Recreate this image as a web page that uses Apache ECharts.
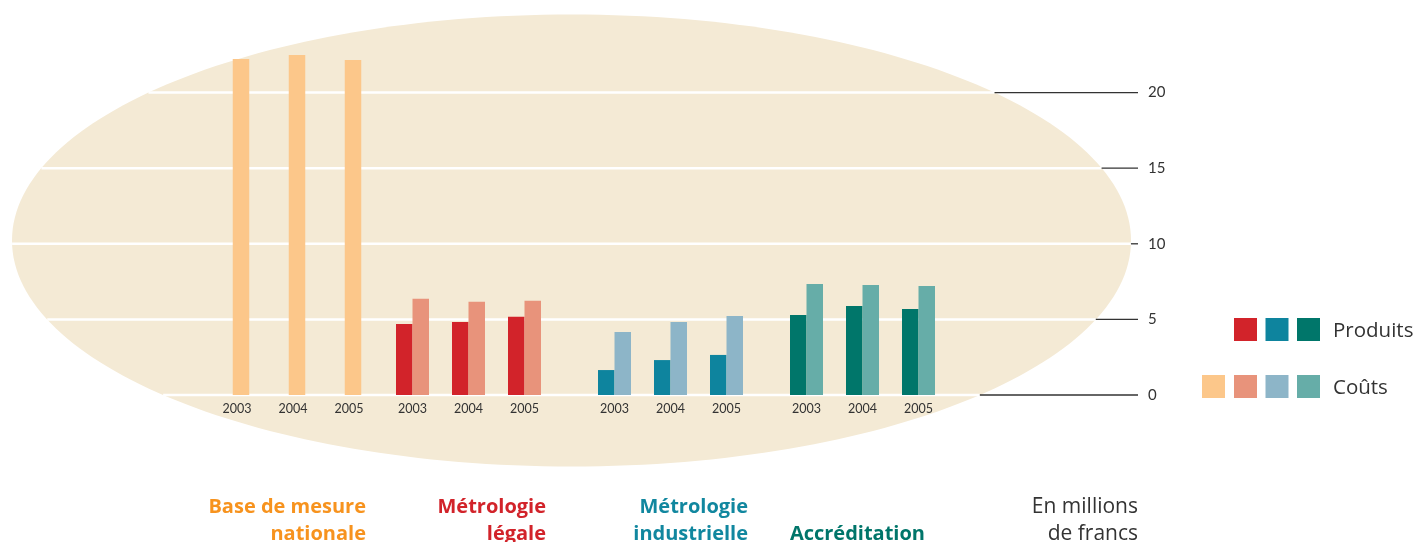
<!DOCTYPE html>
<html>
<head>
<meta charset="utf-8">
<script src="https://cdn.jsdelivr.net/npm/echarts@6/dist/echarts.min.js"></script>
<style>html,body{margin:0;padding:0;background:#fff}#c{width:1418px;height:542px}</style>
</head>
<body>
<div id="c"></div>
<script>
// ---- data ----
const years = ['2003', '2004', '2005'];
const groupTitles = ['Base de mesure\nnationale', 'Métrologie\nlégale', 'Métrologie\nindustrielle', '\nAccréditation'];
const coutsBase = [22.22, 22.49, 22.16];
const produitsLegale = [4.70, 4.83, 5.18];
const coutsLegale = [6.36, 6.16, 6.23];
const produitsIndus = [1.65, 2.31, 2.65];
const coutsIndus = [4.17, 4.83, 5.22];
const produitsAccred = [5.29, 5.89, 5.69];
const coutsAccred = [7.34, 7.27, 7.21];
const yTicks = [0, 5, 10, 15, 20];
const unitLabel = 'En millions\nde francs';
const legendNames = ['Produits', 'Coûts'];

// ---- styles ----
const C = {
  base: '#fcc78a',
  redP: '#d2232a', redC: '#e8937b',
  blueP: '#0e849e', blueC: '#8db5c8',
  greenP: '#00766a', greenC: '#66ada8',
  ellipse: '#f4ead5'
};
const titleColors = ['#f7931e', '#d2232a', '#11879f', '#00756a'];
const titleRight = [366, 546, 748, 925];
const gridLefts = [213, 384.5, 586.5, 778.5];
const TOP = 17, BOTTOM = 147, YMAX = 25;
const FONT = 'Open Sans';

const chart = echarts.init(document.getElementById('c'), null, {renderer: 'canvas'});

const grids = gridLefts.map(l => ({left: l, width: 168, top: TOP, bottom: BOTTOM}));
grids.push({left: 10, right: 1418 - 1138, top: TOP, bottom: BOTTOM});

const xAxes = gridLefts.map((l, i) => ({
  type: 'category', gridIndex: i, data: years, z: 5,
  axisLine: {show: false}, axisTick: {show: false}, splitLine: {show: false},
  axisLabel: {margin: 7, fontSize: 12.5, color: '#333', fontFamily: 'Lato',
              padding: i === 0 ? [0, 8, 0, 0] : 0}
}));
xAxes.push({type: 'category', gridIndex: 4, data: [''], show: false});

const yAxes = [0, 1, 2, 3].map(i => ({
  type: 'value', gridIndex: i, min: 0, max: YMAX, interval: 5, show: false
}));
yAxes.push({
  type: 'value', gridIndex: 4, min: 0, max: YMAX, interval: 5, position: 'right', z: 5,
  axisLine: {show: false}, axisTick: {show: false}, splitLine: {show: false},
  axisLabel: {margin: 10, fontSize: 15, color: '#333', fontFamily: 'Lato',
              formatter: v => (yTicks.indexOf(v) >= 0 ? String(v) : '')}
});

function bar(data, color, gi) {
  return {type: 'bar', xAxisIndex: gi, yAxisIndex: gi, data: data, barWidth: 16.5,
          barGap: '0%', itemStyle: {color: color}, silent: true, animation: false};
}

const series = [
  bar(coutsBase, C.base, 0),
  bar(produitsLegale, C.redP, 1), bar(coutsLegale, C.redC, 1),
  bar(produitsIndus, C.blueP, 2), bar(coutsIndus, C.blueC, 2),
  bar(produitsAccred, C.greenP, 3), bar(coutsAccred, C.greenC, 3)
];

chart.setOption({
  animation: false,
  grid: grids, xAxis: xAxes, yAxis: yAxes, series: series
});

// ---- decoration: ellipse, grid lines, titles, legend ----
const E = {cx: 571.5, cy: 240.5, rx: 559.5, ry: 226};
const axisX = 1138;
const g = [];
g.push({type: 'ellipse', z: -10, silent: true, shape: {cx: E.cx, cy: E.cy, rx: E.rx, ry: E.ry},
        style: {fill: C.ellipse}});
yTicks.forEach(v => {
  const py = chart.convertToPixel({yAxisIndex: 4}, v);
  const t = (py - E.cy) / E.ry;
  const hw = E.rx * Math.sqrt(Math.max(0, 1 - t * t));
  g.push({type: 'line', z: -9, silent: true,
          shape: {x1: E.cx - hw, y1: py, x2: E.cx + hw, y2: py},
          style: {stroke: '#ffffff', lineWidth: 2.5}});
  g.push({type: 'line', z: -9, silent: true,
          shape: {x1: E.cx + hw, y1: py, x2: axisX, y2: py},
          style: {stroke: '#333333', lineWidth: 1.3}});
});
groupTitles.forEach((t, i) => {
  g.push({type: 'text', x: titleRight[i], y: 493.5, silent: true,
          style: {text: t, align: 'right', verticalAlign: 'top', lineHeight: 27,
                  font: 'bold 20px "' + FONT + '"', fill: titleColors[i]}});
});
g.push({type: 'text', x: axisX, y: 493.5, silent: true,
        style: {text: unitLabel, align: 'right', verticalAlign: 'top', lineHeight: 27,
                font: '21px "' + FONT + '"', fill: '#333'}});
// legend
const prodCols = [C.redP, C.blueP, C.greenP];
const coutCols = [C.base, C.redC, C.blueC, C.greenC];
const sqX = [1202, 1234, 1265.5, 1297];
prodCols.forEach((c, i) => g.push({type: 'rect', silent: true,
  shape: {x: sqX[i + 1], y: 318, width: 23, height: 23}, style: {fill: c}}));
coutCols.forEach((c, i) => g.push({type: 'rect', silent: true,
  shape: {x: sqX[i], y: 375, width: 23, height: 23}, style: {fill: c}}));
g.push({type: 'text', x: 1333, y: 331, silent: true,
        style: {text: legendNames[0], align: 'left', verticalAlign: 'middle',
                font: '20.5px "' + FONT + '"', fill: '#333'}});
g.push({type: 'text', x: 1333, y: 388.5, silent: true,
        style: {text: legendNames[1], align: 'left', verticalAlign: 'middle',
                font: '20.5px "' + FONT + '"', fill: '#333'}});

chart.setOption({graphic: g});
</script>
</body>
</html>
